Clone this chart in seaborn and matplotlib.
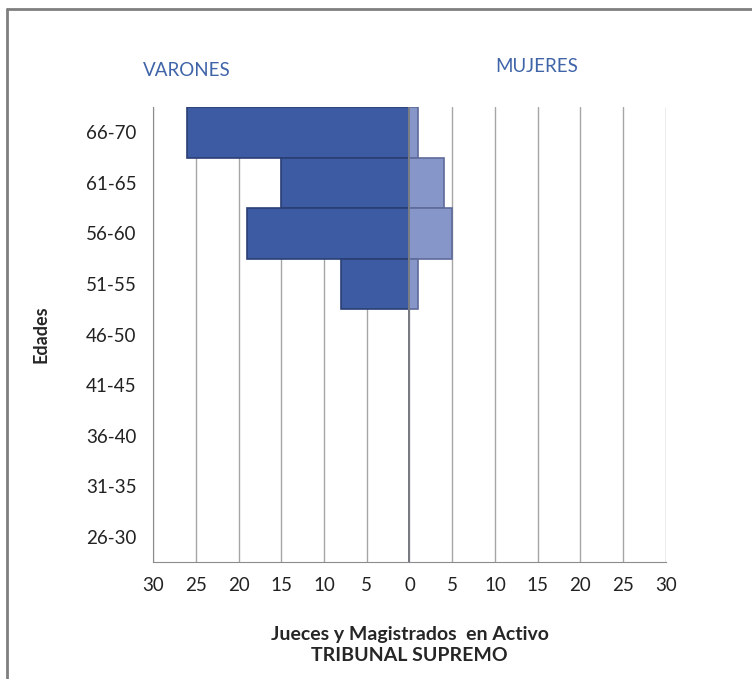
import matplotlib
matplotlib.use("Agg")
import matplotlib.pyplot as plt
import seaborn as sns
import pandas as pd
from matplotlib.lines import Line2D

# Datos: Jueces y Magistrados en Activo - Tribunal Supremo
edades = ["66-70", "61-65", "56-60", "51-55", "46-50", "41-45", "36-40", "31-35", "26-30"]
varones = [26, 15, 19, 8, 0, 0, 0, 0, 0]
mujeres = [1, 4, 5, 1, 0, 0, 0, 0, 0]
ticks = [-30, -25, -20, -15, -10, -5, 0, 5, 10, 15, 20, 25, 30]

sns.set_style("white")
plt.rcParams['font.family'] = ['Lato', 'DejaVu Sans']

df = pd.DataFrame({"Edades": edades,
                   "Varones": [-v for v in varones],
                   "Mujeres": mujeres})

fig = plt.figure(figsize=(7.52, 6.79), dpi=100)
ax = fig.add_axes([0.2035, 0.1723, 0.682, 0.6701])

for x in ticks:
    ax.axvline(x, color="#a6a6a6", lw=1.0, zorder=0)

sns.barplot(data=df, y="Edades", x="Varones", order=edades, orient="h",
            color="#3d5ba3", saturation=1, width=1.0, ax=ax,
            edgecolor="#2a3f73", linewidth=1.2, zorder=2)
sns.barplot(data=df, y="Edades", x="Mujeres", order=edades, orient="h",
            color="#8796c8", saturation=1, width=1.0, ax=ax,
            edgecolor="#5d6a9a", linewidth=1.2, zorder=2)

ax.axvline(0, color="#808080", lw=1.2, zorder=3)

ax.set_xlim(-30, 30)
ax.set_xticks(ticks)
ax.set_xticklabels([str(abs(t)) for t in ticks], fontsize=13.5, color="#222222")
ax.tick_params(axis="x", length=5, color="#8c8c8c", pad=6)
ax.tick_params(axis="y", length=0, labelsize=13.5, labelcolor="#222222", pad=12)

for side in ["top", "right"]:
    ax.spines[side].set_visible(False)
for side in ["left", "bottom"]:
    ax.spines[side].set_color("#8c8c8c")

ax.set_ylabel("Edades", fontsize=13, fontweight="bold", labelpad=26)
ax.set_xlabel("Jueces y Magistrados  en Activo\nTRIBUNAL SUPREMO", fontsize=14,
              fontweight="bold", labelpad=23, linespacing=1.25)

fig.text(187 / 752, 1 - 70 / 679, "VARONES", color="#3f64a8", fontsize=13.5,
         ha="center", va="center")
fig.text(537 / 752, 1 - 66 / 679, "MUJERES", color="#3f64a8", fontsize=13.5,
         ha="center", va="center")

# marco exterior
fig.add_artist(Line2D([7 / 752, 7 / 752], [0, 1 - 9 / 679], color="#7f7f7f", lw=2,
                      transform=fig.transFigure))
fig.add_artist(Line2D([7 / 752, 1], [1 - 9 / 679, 1 - 9 / 679], color="#7f7f7f", lw=2,
                      transform=fig.transFigure))

plt.savefig("out.png", dpi=100)
plt.close(fig)
